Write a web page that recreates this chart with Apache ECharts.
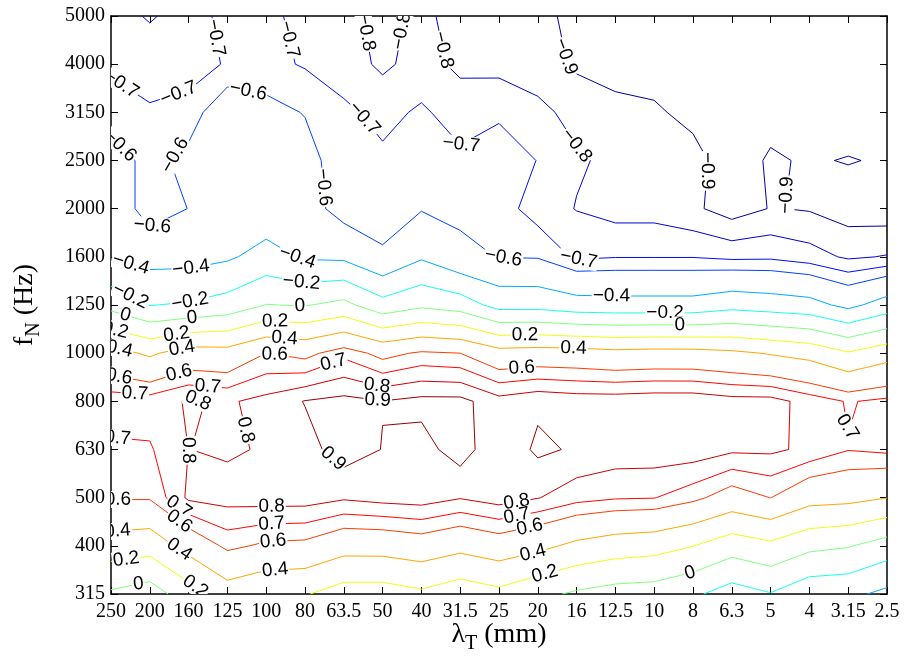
<!DOCTYPE html>
<html>
<head>
<meta charset="utf-8">
<script src="https://cdn.jsdelivr.net/npm/echarts@6/dist/echarts.min.js"></script>
<style>
html,body{margin:0;padding:0;background:#fff;}
#c{width:906px;height:671px;}
</style>
</head>
<body>
<div id="c"></div>
<script>
// ---- data ----
const xLabels = ['250','200','160','125','100','80','63.5','50','40','31.5','25','20','16','12.5','10','8','6.3','5','4','3.15','2.5'];
const yLabels = ['315','400','500','630','800','1000','1250','1600','2000','2500','3150','4000','5000'];
const levels = [-0.9,-0.8,-0.7,-0.6,-0.4,-0.2,0,0.2,0.4,0.6,0.7,0.8,0.9];

// one row per frequency f_N, values across lambda_T (250 mm ... 2.5 mm)
const f315  = [-0.03,-0.098,0.11,0.307,0.231,0.214,0.111,0.11,0.164,0.083,0.147,0.05,-0.029,-0.079,-0.095,-0.167,-0.287,-0.21,-0.339,-0.353,-0.448];
const f400  = [0.31,0.281,0.473,0.632,0.576,0.565,0.477,0.48,0.517,0.457,0.516,0.45,0.357,0.302,0.276,0.204,0.089,0.156,0.049,0.013,-0.09];
const f500  = [0.612,0.613,0.82,0.84,0.85,0.85,0.815,0.84,0.852,0.807,0.85,0.805,0.739,0.711,0.704,0.635,0.528,0.602,0.472,0.455,0.403];
const f630  = [0.681,0.689,0.801,0.786,0.81,0.86,0.95,0.897,0.86,0.95,0.82,0.92,0.887,0.86,0.86,0.86,0.82,0.82,0.777,0.705,0.725];
const f800  = [0.757,0.751,0.81,0.786,0.833,0.905,0.93,0.903,0.93,0.93,0.84,0.88,0.86,0.86,0.87,0.87,0.84,0.84,0.76,0.691,0.727];
const f1000 = [0.467,0.371,0.487,0.474,0.6,0.558,0.67,0.555,0.62,0.6,0.476,0.49,0.483,0.456,0.468,0.466,0.437,0.386,0.337,0.216,0.322];
const f1250 = [-0.065,-0.205,-0.181,-0.121,0.005,-0.011,0.055,-0.127,-0.038,-0.095,-0.27,-0.27,-0.32,-0.33,-0.33,-0.33,-0.27,-0.3,-0.333,-0.451,-0.313];
const f1600 = [-0.41,-0.47,-0.47,-0.427,-0.33,-0.423,-0.438,-0.58,-0.424,-0.56,-0.605,-0.61,-0.72,-0.705,-0.705,-0.705,-0.725,-0.72,-0.757,-0.816,-0.793];
const f2000 = [-0.47,-0.68,-0.597,-0.48,-0.52,-0.52,-0.67,-0.66,-0.61,-0.633,-0.65,-0.75,-0.804,-0.84,-0.84,-0.88,-0.95,-0.895,-0.9085,-0.95,-0.96];
const f2500 = [-0.535,-0.64,-0.563,-0.52,-0.53,-0.55,-0.67,-0.68,-0.65,-0.679,-0.68,-0.701,-0.789,-0.82,-0.86,-0.875,-0.94,-0.89,-0.909,-0.895,-0.91];
const f3150 = [-0.668,-0.69,-0.66,-0.5,-0.56,-0.606,-0.68,-0.73,-0.685,-0.744,-0.706,-0.78,-0.825,-0.885,-0.89,-0.92,-0.96,-0.927,-0.95,-0.95,-0.96];
const f4000 = [-0.712,-0.74,-0.747,-0.69,-0.67,-0.71,-0.75,-0.82,-0.76,-0.823,-0.838,-0.84,-0.919,-0.92,-0.93,-0.94,-0.96,-0.95,-0.96,-0.96,-0.96];
const f5000 = [-0.76,-0.81,-0.76,-0.66,-0.66,-0.75,-0.76,-0.84,-0.77,-0.85,-0.86,-0.87,-0.93,-0.94,-0.95,-0.95,-0.96,-0.96,-0.96,-0.96,-0.96];

// contour label requests: [level, approx lambda index, approx f index]
const labelHints = [
 [-0.7,0.3,10.63],[-0.7,1.78,10.3],[-0.7,2.77,11.56],[-0.7,4.48,11.49],
 [-0.8,6.37,11.63],[-0.8,7.49,11.69],[-0.8,8.48,11.28],[-0.9,11.62,11.14],
 [-0.6,0.3,9.36],[-0.6,1.65,9.11],[-0.6,1.08,7.62],[-0.6,3.53,10.42],[-0.6,5.43,8.44],
 [-0.7,6.46,9.83],[-0.7,9.04,9.31],[-0.8,12.0,9.31],[-0.6,10.11,6.93],[-0.7,12.04,7.14],
 [-0.4,12.9,6.28],[-0.9,15.3,8.79],[-0.9,17.24,8.3],
 [-0.4,0.49,6.79],[-0.4,2.09,6.66],[-0.4,4.8,6.98],
 [-0.2,0.49,6.17],[-0.2,2.04,6.06],[-0.2,4.92,6.52],[-0.2,14.28,5.83],
 [0,0.36,5.76],[0,2.09,5.73],[0,4.87,5.96],[0,14.66,5.69],
 [0.2,0.1,5.45],[0.2,1.69,5.38],[0.2,4.23,5.69],[0.2,10.67,5.41],
 [0.4,0.23,5.13],[0.4,1.82,5.13],[0.4,4.48,5.38],[0.4,11.92,5.13],
 [0.6,0.23,4.61],[0.6,1.73,4.65],[0.6,4.23,5.03],[0.6,10.58,4.79],
 [0.7,0.62,4.2],[0.7,2.5,4.38],[0.7,5.69,4.9],[0.8,2.24,4.03],[0.8,6.88,4.41],[0.9,6.88,4.07],
 [0.7,0.18,3.3],[0.8,1.82,2.99],[0.8,3.45,3.4],[0.9,5.69,2.78],
 [0.6,0.18,1.81],[0.7,1.69,1.74],[0.6,1.69,1.43],[0.4,0.18,1.19],[0.2,0.4,0.67],[0,0.7,0.23],
 [0.4,1.69,0.84],[0.2,2.11,0.08],
 [0.8,4.14,1.81],[0.7,4.14,1.43],[0.6,4.18,1.05],[0.4,4.23,0.5],
 [0.8,10.46,1.88],[0.7,10.46,1.6],[0.6,10.8,1.36],[0.4,10.88,0.84],[0.2,11.19,0.39],
 [0,14.92,0.46],[0.7,19.0,3.47]
];

// ---- contour computation (marching squares on the grid) ----
const rows = [f315,f400,f500,f630,f800,f1000,f1250,f1600,f2000,f2500,f3150,f4000,f5000];
const NX = xLabels.length, NY = yLabels.length;
const V = (i,j) => rows[j][i];

function contourLines(L){
  const segs = [];
  const up = v => v >= L;
  const t = (p,q) => (L-p)/(q-p);
  for (let j=0;j<NY-1;j++){
    for (let i=0;i<NX-1;i++){
      const a=V(i,j), b=V(i+1,j), c=V(i+1,j+1), d=V(i,j+1);
      const E = {};
      let n = 0;
      if (up(a)!==up(b)) { E[0] = {p:[i+t(a,b), j], key:'h'+i+'_'+j}; n++; }
      if (up(b)!==up(c)) { E[1] = {p:[i+1, j+t(b,c)], key:'v'+(i+1)+'_'+j}; n++; }
      if (up(d)!==up(c)) { E[2] = {p:[i+t(d,c), j+1], key:'h'+i+'_'+(j+1)}; n++; }
      if (up(a)!==up(d)) { E[3] = {p:[i, j+t(a,d)], key:'v'+i+'_'+j}; n++; }
      if (n===2){
        const e = Object.values(E);
        segs.push([e[0], e[1]]);
      } else if (n===4){
        const m = (a+b+c+d)/4;
        if (up(a)===up(m)) { segs.push([E[0],E[1]]); segs.push([E[2],E[3]]); }
        else { segs.push([E[0],E[3]]); segs.push([E[1],E[2]]); }
      }
    }
  }
  const byKey = new Map();
  segs.forEach((s,k)=>{ s.forEach(e=>{ if(!byKey.has(e.key)) byKey.set(e.key,[]); byKey.get(e.key).push(k); }); });
  const used = new Array(segs.length).fill(false);
  const polys = [];
  for (let k=0;k<segs.length;k++){
    if (used[k]) continue;
    used[k] = true;
    const line = [segs[k][0], segs[k][1]];
    for (let dir=0; dir<2; dir++){
      while (true){
        const end = line[line.length-1];
        const cand = (byKey.get(end.key)||[]).filter(q=>!used[q]);
        if (!cand.length) break;
        const q = cand[0]; used[q] = true;
        const s = segs[q];
        line.push(s[0].key===end.key ? s[1] : s[0]);
      }
      line.reverse();
    }
    polys.push(line.map(e=>e.p));
  }
  return polys;
}

// MATLAB-like jet colour for a level, scaled on the data range
let zmin = Infinity, zmax = -Infinity;
rows.forEach(r=>r.forEach(v=>{ zmin=Math.min(zmin,v); zmax=Math.max(zmax,v); }));
function jet(L){
  const tt = (L-zmin)/(zmax-zmin);
  const cl = x => Math.max(0, Math.min(1, x));
  const r = cl(1.5-Math.abs(4*tt-3)), g = cl(1.5-Math.abs(4*tt-2)), b = cl(1.5-Math.abs(4*tt-1));
  const h = x => Math.round(x*255).toString(16).padStart(2,'0');
  return '#'+h(r)+h(g)+h(b);
}
const fmtLevel = L => L===0 ? '0' : (L<0 ? '\u2212' : '') + String(Math.abs(L));

const contours = levels.map(L => ({level:L, polys: contourLines(L)}));

// ---- chart ----
const chart = echarts.init(document.getElementById('c'), null, {renderer:'canvas'});
const serif = '"Liberation Serif","Times New Roman",serif';
const axisCommon = {
  type:'value', min:0, interval:1,
  axisLine:{show:true, onZero:false, lineStyle:{color:'#000', width:1.5}},
  axisTick:{show:true, inside:true, length:7, lineStyle:{color:'#000', width:1}},
  splitLine:{show:false}
};

const lineSeries = contours.map(c => ({
  type:'lines', coordinateSystem:'cartesian2d', xAxisIndex:0, yAxisIndex:0,
  polyline:true, silent:true, z:2,
  lineStyle:{color: jet(c.level), width:1, opacity:1, curveness:0},
  data: c.polys.map(p => ({coords:p}))
}));

const option = {
  animation:false,
  backgroundColor:'#fff',
  grid:{left:111, right:19, top:16, bottom:77, containLabel:false, outerBoundsMode:'none'},
  xAxis:[
    Object.assign({}, axisCommon, {max:NX-1, position:'bottom',
      axisLabel:{show:true, formatter:v=>xLabels[v], color:'#000', fontFamily:serif, fontSize:20, margin:8}}),
    Object.assign({}, axisCommon, {max:NX-1, position:'top', axisLabel:{show:false}})
  ],
  yAxis:[
    Object.assign({}, axisCommon, {max:NY-1, position:'left',
      axisLabel:{show:true, formatter:v=>yLabels[v], color:'#000', fontFamily:serif, fontSize:20, margin:6}}),
    Object.assign({}, axisCommon, {max:NY-1, position:'right', axisLabel:{show:false}})
  ],
  series: lineSeries
};
chart.setOption(option);

// ---- contour labels, snapped onto the computed contours ----
const labelTexts = [];
const labelData = [];
labelHints.forEach(([L,hx,hy])=>{
  const c = contours.find(cc=>cc.level===L);
  if (!c || !c.polys.length) return;
  const hp = chart.convertToPixel({gridIndex:0}, [hx,hy]);
  let best = null;
  c.polys.forEach(poly=>{
    const px = poly.map(p=>chart.convertToPixel({gridIndex:0}, p));
    const cum = [0];
    for (let k=1;k<px.length;k++) cum.push(cum[k-1]+Math.hypot(px[k][0]-px[k-1][0], px[k][1]-px[k-1][1]));
    for (let k=0;k<px.length-1;k++){
      const a=px[k], b=px[k+1];
      const dx=b[0]-a[0], dy=b[1]-a[1];
      const l2 = dx*dx+dy*dy || 1e-9;
      let u = ((hp[0]-a[0])*dx+(hp[1]-a[1])*dy)/l2;
      u = Math.max(0, Math.min(1, u));
      const q = [a[0]+u*dx, a[1]+u*dy];
      const dist = Math.hypot(q[0]-hp[0], q[1]-hp[1]);
      if (!best || dist < best.dist){
        best = {dist, px, cum, s: cum[k]+u*Math.sqrt(l2),
                data:[poly[k][0]+u*(poly[k+1][0]-poly[k][0]), poly[k][1]+u*(poly[k+1][1]-poly[k][1])]};
      }
    }
  });
  if (!best) return;
  const at = s => {
    const {px, cum} = best;
    s = Math.max(0, Math.min(cum[cum.length-1], s));
    let k = 0; while (k < cum.length-2 && cum[k+1] < s) k++;
    const seg = (cum[k+1]-cum[k]) || 1e-9, u = (s-cum[k])/seg;
    return [px[k][0]+u*(px[k+1][0]-px[k][0]), px[k][1]+u*(px[k+1][1]-px[k][1])];
  };
  const p1 = at(best.s-16), p2 = at(best.s+16);
  let ang = Math.atan2(-(p2[1]-p1[1]), p2[0]-p1[0]);
  if (ang > Math.PI/2) ang -= Math.PI;
  if (ang < -Math.PI/2) ang += Math.PI;
  labelData.push([best.data[0], best.data[1], ang]);
  labelTexts.push(fmtLevel(L));
});

// axis titles with subscripts
const mctx = document.createElement('canvas').getContext('2d');
const tw = (t,f) => { mctx.font = f; return mctx.measureText(t).width; };
const bigF = '28px "Liberation Serif"', subF = '20px "Liberation Serif"';
function titleParts(main, sub, rest){
  const w1 = tw(main,bigF), w2 = tw(sub,subF), w3 = tw(rest,bigF);
  const W = w1+w2+w3;
  return [
    {text:main, font:bigF, x:-W/2, dy:0},
    {text:sub, font:subF, x:-W/2+w1, dy:6},
    {text:rest, font:bigF, x:-W/2+w1+w2, dy:0}
  ];
}
function textEl(p, baseOff){
  const fs = p.font===bigF ? 28 : 20;
  return {type:'text', x:p.x, y: baseOff + p.dy - 0.3375*fs,
    style:{text:p.text, font:p.font, fill:'#000', align:'left', textAlign:'left', verticalAlign:'middle', textVerticalAlign:'middle'}};
}
const gridCx = (chart.convertToPixel({gridIndex:0},[0,0])[0] + chart.convertToPixel({gridIndex:0},[NX-1,0])[0])/2;
const gridCy = (chart.convertToPixel({gridIndex:0},[0,0])[1] + chart.convertToPixel({gridIndex:0},[0,NY-1])[1])/2;

chart.setOption({
  series: lineSeries.concat([{
    type:'custom', coordinateSystem:'cartesian2d', xAxisIndex:0, yAxisIndex:0,
    clip:true, silent:true, z:5,
    data: labelData,
    renderItem:(params, api)=>{
      const p = api.coord([api.value(0), api.value(1)]);
      return {type:'text', x:p[0], y:p[1], rotation: api.value(2),
        style:{text: labelTexts[params.dataIndex], font:'19px "Liberation Sans"', fill:'#000',
          align:'center', verticalAlign:'middle', backgroundColor:'#fff', padding:[0,1], lineHeight:17}};
    }
  }]),
  graphic:[
    {type:'group', x: gridCx, y: 644, children: titleParts('\u03bb','T',' (mm)').map(p=>textEl(p,0))},
    {type:'group', x: 34, y: gridCy, rotation: Math.PI/2, children: titleParts('f','N',' (Hz)').map(p=>textEl(p,0))}
  ]
});
</script>
</body>
</html>
